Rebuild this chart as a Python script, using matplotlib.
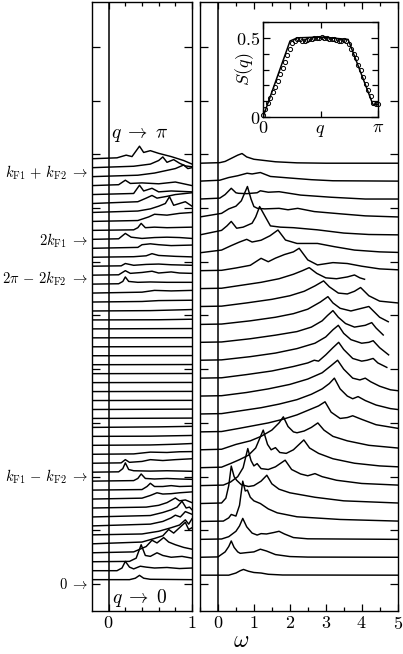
import numpy as np
import matplotlib
matplotlib.use("Agg")
import matplotlib.pyplot as plt
from matplotlib.ticker import FixedLocator, MultipleLocator
from matplotlib.transforms import blended_transform_factory

# ---------------- data ----------------
# left panel: 48 spectra, each (omega, height) points, bottom (q->0) to top (q->pi)
left_low = [
    [(-0.2,0),(0.25,0),(0.32,0.08),(0.37,0.24),(0.42,0.08),(0.5,0.02),(1,0)],
    [(-0.2,0),(0.1,0),(0.16,0.15),(0.2,0.52),(0.25,0.2),(0.3,0.1),(0.38,0.25),(0.45,0.2),(0.55,0.15),(0.7,0.18),(0.85,0.12),(1,0.15)],
    [(-0.2,0),(0.25,0.02),(0.33,0.2),(0.39,0.95),(0.44,0.35),(0.5,0.3),(0.58,0.5),(0.65,0.35),(0.75,0.25),(0.88,0.3),(1,0.2)],
    [(-0.2,0),(0.3,0.05),(0.45,0.35),(0.52,0.7),(0.58,0.55),(0.66,0.85),(0.72,0.6),(0.8,0.45),(0.9,0.3),(1,0.2)],
    [(-0.2,0),(0.4,0.1),(0.55,0.3),(0.65,0.45),(0.72,0.8),(0.78,0.6),(0.85,0.9),(0.92,1.2),(0.96,0.8),(1,0.9)],
    [(-0.2,0),(0.4,0.05),(0.6,0.2),(0.75,0.4),(0.85,0.55),(0.92,0.84),(0.96,0.6),(1,0.9)],
    [(-0.2,0),(0.5,0.1),(0.65,0.25),(0.75,0.45),(0.8,0.6),(0.86,0.5),(0.92,0.8),(1,0.65)],
    [(-0.2,0),(0.5,0.08),(0.65,0.25),(0.75,0.4),(0.82,0.55),(0.88,0.88),(0.93,0.5),(0.97,0.55),(1,0.4)],
    [(-0.2,0),(0.45,0.05),(0.6,0.15),(0.7,0.3),(0.8,0.56),(0.85,0.4),(0.92,0.45),(1,0.3)],
    [(-0.2,0),(0.4,0.05),(0.5,0.2),(0.58,0.35),(0.65,0.28),(0.75,0.3),(0.85,0.35),(1,0.4)],
    [(-0.2,0),(0.4,0.03),(0.46,0.2),(0.5,0.38),(0.55,0.2),(0.65,0.2),(0.75,0.25),(0.85,0.2),(1,0.22)],
    [(-0.2,0),(0.3,0.03),(0.35,0.15),(0.39,0.4),(0.44,0.15),(0.55,0.12),(0.7,0.15),(0.85,0.12),(1,0.1)],
    [(-0.2,0),(0.12,0.02),(0.17,0.2),(0.2,0.52),(0.24,0.15),(0.3,0.08),(0.5,0.06),(0.7,0.08),(1,0.05)],
    [(-0.2,0),(0.15,0.02),(0.2,0.2),(0.25,0.05),(0.4,0.1),(0.5,0.2),(0.65,0.15),(0.8,0.2),(1,0.25)],
    [(-0.2,0),(0.3,0.02),(0.5,0.12),(0.7,0.1),(0.85,0.14),(1,0.15)],
    [(-0.2,0),(0.5,0.02),(0.8,0.06),(1,0.1)],
]
left_mid = [
    [(-0.2,0),(0.5,0.01),(1,0.05)],
    [(-0.2,0),(0.6,0.03),(1,0.06)],
    [(-0.2,0),(1,0.02)],
    [(-0.2,0),(1,0.02)],
    [(-0.2,0),(1,0.01)],
    [(-0.2,0),(1,0.01)],
    [(-0.2,0),(1,0.01)],
    [(-0.2,0),(1,0.01)],
    [(-0.2,0),(1,0.01)],
    [(-0.2,0),(1,0.01)],
    [(-0.2,0),(1,0.01)],
    [(-0.2,0),(1,0.01)],
    [(-0.2,0),(1,0.02)],
    [(-0.2,0),(0.6,0.01),(1,0.04)],
    [(-0.2,0),(0.5,0.02),(1,0.08)],
    [(-0.2,0),(0.4,0.03),(0.6,0.08),(1,0.1)],
]
left_high = [
    [(-0.2,0),(0.4,0.05),(0.55,0.15),(0.75,0.12),(1,0.15)],
    [(-0.2,0),(0.12,0.02),(0.17,0.15),(0.2,0.4),(0.24,0.15),(0.35,0.1),(0.5,0.12),(0.7,0.1),(1,0.1)],
    [(-0.2,0),(0.12,0.02),(0.2,0.25),(0.26,0.1),(0.4,0.15),(0.52,0.22),(0.6,0.12),(0.75,0.18),(0.85,0.12),(1,0.1)],
    [(-0.2,0),(0.15,0.02),(0.2,0.15),(0.3,0.05),(0.45,0.1),(0.6,0.12),(0.75,0.08),(1,0.05)],
    [(-0.2,0),(0.3,0.03),(0.45,0.08),(0.52,0.2),(0.6,0.1),(0.8,0.05),(1,0.02)],
    [(-0.2,0),(0.35,0.05),(0.4,0.2),(0.5,0.25),(0.6,0.2),(0.75,0.15),(1,0.18)],
    [(-0.2,0),(0.12,0.03),(0.2,0.33),(0.27,0.12),(0.4,0.05),(0.55,0.1),(0.7,0.12),(0.85,0.1),(1,0.05)],
    [(-0.2,0),(0.3,0.03),(0.35,0.15),(0.39,0.39),(0.44,0.15),(0.55,0.18),(0.7,0.15),(1,0.18)],
    [(-0.2,0),(0.35,0.05),(0.48,0.25),(0.55,0.4),(0.7,0.35),(0.85,0.45),(1,0.5)],
    [(-0.2,0),(0.35,0.08),(0.5,0.2),(0.6,0.35),(0.68,0.5),(0.73,0.88),(0.78,0.4),(0.85,0.5),(0.92,0.6),(1,0.35)],
    [(-0.2,0),(0.35,0.1),(0.45,0.3),(0.52,0.45),(0.58,0.3),(0.7,0.4),(0.8,0.5),(0.9,0.55),(1,0.6)],
    [(-0.2,0),(0.3,0.06),(0.37,0.52),(0.42,0.2),(0.52,0.35),(0.6,0.15),(0.75,0.2),(1,0.15)],
    [(-0.2,0),(0.12,0.05),(0.2,0.3),(0.26,0.12),(0.4,0.15),(0.6,0.1),(0.8,0.2),(1,0.0)],
    [(-0.2,0),(0.35,0.08),(0.55,0.2),(0.7,0.35),(0.8,0.45),(0.9,0.65),(0.95,0.45),(1,0.5)],
    [(-0.2,0),(0.3,0.08),(0.5,0.2),(0.6,0.4),(0.65,0.6),(0.7,0.3),(0.78,0.45),(0.85,0.25),(0.92,0.1),(1,0.05)],
    [(-0.2,0),(0.1,0.05),(0.21,0.2),(0.28,0.12),(0.37,0.7),(0.42,0.35),(0.5,0.45),(0.6,0.3),(0.75,0.12),(0.9,-0.1),(1,-0.3)],
]

# right panel: 24 spectra, bottom (q->0) to top (q->pi)
right_low = [
    [(-0.5,0),(0.3,0),(0.5,0.12),(0.62,0.25),(0.71,0.32),(0.85,0.22),(1.0,0.15),(1.2,0.12),(1.4,0.05),(1.8,0.01),(5,0)],
    [(-0.5,0),(0,0.02),(0.2,0.3),(0.3,0.6),(0.37,0.91),(0.45,0.55),(0.55,0.3),(0.62,0.22),(0.8,0.26),(1.0,0.3),(1.18,0.45),(1.35,0.35),(1.6,0.15),(2.0,0.04),(2.5,0.01),(5,0)],
    [(-0.5,0),(0.1,0.02),(0.3,0.15),(0.5,0.45),(0.6,0.75),(0.69,1.17),(0.8,0.7),(0.95,0.35),(1.09,0.24),(1.2,0.32),(1.35,0.3),(1.55,0.38),(1.7,0.45),(1.85,0.3),(2.1,0.1),(2.5,0.03),(5,0)],
    [(-0.5,0),(0.15,0.02),(0.3,0.2),(0.37,0.39),(0.5,0.3),(0.6,0.9),(0.69,2.25),(0.76,1.7),(0.82,1.75),(0.9,1.35),(1.0,1.15),(1.18,1.0),(1.4,0.7),(1.65,0.48),(2.2,0.26),(3.4,0.11),(5,0.02)],
    [(-0.5,0),(0.1,0.03),(0.22,0.3),(0.3,1.0),(0.37,2.09),(0.45,1.5),(0.52,1.3),(0.65,1.05),(0.85,0.95),(1.0,1.0),(1.2,1.25),(1.36,1.58),(1.5,1.1),(1.7,0.8),(2.0,0.6),(2.7,0.35),(3.5,0.15),(5,0.03)],
    [(-0.5,0),(0.15,0.03),(0.35,0.2),(0.55,0.5),(0.7,1.0),(0.83,2.07),(0.92,1.4),(1.0,1.1),(1.09,1.23),(1.2,0.95),(1.4,0.9),(1.6,1.05),(1.87,1.42),(2.05,0.9),(2.3,0.65),(2.5,0.55),(2.7,0.67),(2.9,0.5),(3.3,0.3),(4.0,0.12),(5,0.03)],
    [(-0.5,0),(0.1,0.03),(0.37,0.25),(0.6,0.45),(0.85,0.7),(1.05,1.1),(1.26,2.1),(1.38,1.3),(1.48,1.0),(1.6,1.12),(1.72,0.85),(1.9,0.8),(2.1,1.0),(2.39,1.55),(2.55,1.1),(2.8,0.8),(3.2,0.5),(3.8,0.25),(4.5,0.1),(5,0.05)],
    [(-0.5,0),(0.1,0.03),(0.5,0.3),(0.9,0.5),(1.2,0.75),(1.5,1.1),(1.7,1.5),(1.82,1.84),(1.95,1.3),(2.1,1.0),(2.2,0.95),(2.4,1.05),(2.6,1.25),(2.78,1.5),(2.95,1.1),(3.2,0.75),(3.6,0.5),(4.2,0.25),(5,0.1)],
    [(-0.5,0),(0.1,0.02),(0.6,0.2),(1.0,0.35),(1.4,0.5),(1.8,0.7),(2.2,0.95),(2.5,1.2),(2.8,1.45),(2.98,1.68),(3.15,1.1),(3.4,0.75),(3.6,0.8),(3.75,0.9),(4.0,0.7),(4.4,0.4),(5,0.2)],
    [(-0.5,0),(0.1,0.02),(0.7,0.2),(1.2,0.35),(1.7,0.55),(2.2,0.8),(2.6,1.1),(2.9,1.4),(3.1,1.7),(3.24,2.0),(3.4,1.4),(3.6,1.0),(3.75,0.85),(3.9,0.97),(4.1,0.75),(4.4,0.5),(4.8,0.3),(5,0.25)],
    [(-0.5,0),(0.1,0.02),(0.8,0.2),(1.4,0.4),(2.0,0.65),(2.5,0.95),(2.9,1.3),(3.15,1.7),(3.33,2.0),(3.5,1.5),(3.75,1.0),(3.95,0.9),(4.1,1.0),(4.25,0.8),(4.5,0.55),(4.8,0.35),(5,0.3)],
    [(-0.5,0),(0.1,0.02),(0.8,0.2),(1.5,0.4),(2.1,0.65),(2.5,0.85),(2.68,1.0),(2.8,0.95),(3.0,1.3),(3.2,1.7),(3.36,2.0),(3.5,1.6),(3.75,1.1),(4.0,0.95),(4.15,1.0),(4.32,1.1),(4.45,0.85),(4.7,0.6)],
]
right_high = [
    [(-0.5,0),(0.1,0.02),(0.9,0.2),(1.6,0.4),(2.2,0.65),(2.7,0.95),(3.0,1.3),(3.2,1.7),(3.35,1.95),(3.5,1.5),(3.7,1.15),(4.0,0.95),(4.2,1.0),(4.32,1.09),(4.5,0.7),(4.75,0.3)],
    [(-0.5,0),(0.1,0.02),(0.9,0.2),(1.6,0.4),(2.2,0.6),(2.6,0.85),(2.9,1.2),(3.05,1.5),(3.2,1.77),(3.35,1.4),(3.55,1.05),(3.8,0.85),(4.1,0.95),(4.28,1.1),(4.4,0.8),(4.6,0.41)],
    [(-0.5,0),(0.1,0.02),(0.9,0.2),(1.6,0.4),(2.1,0.6),(2.5,0.85),(2.85,1.25),(3.06,1.55),(3.2,1.2),(3.4,0.9),(3.7,0.75),(4.0,0.9),(4.2,1.0),(4.35,0.7),(4.5,0.4),(4.74,0.15)],
    [(-0.5,0),(0.1,0.02),(0.8,0.2),(1.5,0.4),(2.0,0.6),(2.4,0.85),(2.7,1.15),(2.94,1.43),(3.1,1.1),(3.35,0.75),(3.6,0.7),(3.8,0.85),(3.97,1.06),(4.2,0.6),(4.5,0.3),(5,0.2)],
    [(-0.5,0),(0.1,0.02),(0.7,0.2),(1.2,0.35),(1.7,0.55),(2.1,0.8),(2.35,1.0),(2.54,1.17),(2.75,0.85),(3.0,0.6),(3.3,0.55),(3.6,0.65),(3.8,0.76),(3.95,0.6),(4.08,0.52)],
    [(-0.5,0),(0.1,0.02),(0.5,0.15),(0.9,0.3),(1.2,0.69),(1.4,0.5),(1.6,0.7),(1.85,0.9),(2.1,1.05),(2.26,1.25),(2.5,0.6),(2.77,0.32),(3.2,0.45),(3.6,0.4),(4.0,0.25),(4.5,0.1),(5,0.05)],
    [(-0.5,0),(0.1,0.15),(0.37,0.4),(0.6,0.6),(0.8,0.75),(0.95,0.6),(1.2,0.7),(1.45,0.95),(1.67,1.27),(1.88,0.71),(2.2,0.52),(2.77,0.52),(3.24,0.34),(3.8,0.15),(4.5,0.05),(5,0.02)],
    [(-0.5,0),(0.1,0.25),(0.25,0.5),(0.37,0.75),(0.52,0.37),(0.7,0.43),(0.95,0.65),(1.05,1.0),(1.16,1.58),(1.32,1.0),(1.46,0.5),(1.74,0.43),(2.1,0.4),(2.77,0.28),(3.5,0.1),(4.2,0.02),(5,0)],
    [(-0.5,0),(0.1,0.2),(0.3,0.45),(0.5,0.6),(0.65,0.9),(0.82,1.7),(0.92,1.0),(1.0,0.58),(1.1,0.48),(1.3,0.45),(1.7,0.48),(1.95,0.4),(2.22,0.48),(2.68,0.3),(3.43,0.17),(4.1,0.06),(5,0)],
    [(-0.5,0),(0.05,0.05),(0.2,0.25),(0.37,0.6),(0.5,0.35),(0.57,0.32),(0.8,0.3),(1.09,0.35),(1.18,0.46),(1.4,0.38),(1.7,0.41),(2.3,0.22),(3.15,0.1),(4.1,0),(5,0)],
    [(-0.5,0),(0.05,0.05),(0.3,0.2),(0.55,0.3),(0.81,0.44),(0.95,0.4),(1.18,0.48),(1.46,0.26),(2.02,0.17),(2.6,0.08),(3.2,0.02),(5,0)],
    [(-0.5,0),(0.05,0.03),(0.2,0.1),(0.4,0.3),(0.55,0.45),(0.67,0.54),(0.8,0.35),(1.0,0.22),(1.3,0.15),(1.6,0.08),(2.2,0.02),(3,0),(5,0)],
]

# inset S(q): solid line (q in units of pi) and circles
sline_q = [0.0, 0.235, 0.30, 0.50, 0.74, 0.95, 0.96, 1.0]
sline_S = [0.0, 0.48, 0.50, 0.505, 0.49, 0.09, 0.075, 0.08]
scirc_S = [0.01, 0.05, 0.09, 0.12, 0.16, 0.19, 0.23, 0.27, 0.31, 0.35, 0.39, 0.43,
           0.47, 0.48, 0.49, 0.49, 0.48, 0.48, 0.485, 0.49, 0.495, 0.50, 0.50, 0.50,
           0.505, 0.50, 0.50, 0.495, 0.49, 0.49, 0.485, 0.48, 0.48, 0.485, 0.48, 0.46,
           0.43, 0.40, 0.37, 0.33, 0.30, 0.25, 0.21, 0.17, 0.13, 0.09, 0.08, 0.08]

left_labels = [r'$0\;\rightarrow$', r'$k_{\rm F1}\,-\,k_{\rm F2}\;\rightarrow$',
               r'$2\pi\,-\,2k_{\rm F2}\;\rightarrow$', r'$2k_{\rm F1}\;\rightarrow$',
               r'$k_{\rm F1}\,+\,k_{\rm F2}\;\rightarrow$']

# ---------------- style ----------------
plt.rcParams['mathtext.fontset'] = 'cm'
plt.rcParams['font.family'] = 'serif'
plt.rcParams['font.serif'] = ['cmr10', 'DejaVu Serif']
plt.rcParams['axes.linewidth'] = 1.0

W, H = 403, 654
fig = plt.figure(figsize=(W/100, H/100), dpi=100)
axL = fig.add_axes([92/W, 1-611/H, 100/W, 609/H])
axR = fig.add_axes([200/W, 1-611/H, 197.6/W, 609/H])
axI = fig.add_axes([263/W, 1-117/H, 115/W, 95/H])

lw = 1.05
left_curves = left_low + left_mid + left_high
right_curves = right_low + right_high
for i, pts in enumerate(left_curves):
    w, h = np.array(pts).T
    axL.plot(w, -0.25 + 0.5*i + h, color='k', lw=lw)
for j, pts in enumerate(right_curves):
    w, h = np.array(pts).T
    axR.plot(w, j + h, color='k', lw=lw)

for ax, xl in ((axL, (-0.2, 1.0)), (axR, (-0.5, 5.0))):
    ax.axvline(0, color='k', lw=1.1)
    ax.set_xlim(*xl)
    ax.set_ylim(-2, 32)
    ax.set_yticks(np.arange(-0.5, 32, 3))
    ax.tick_params(which='both', direction='in', top=True, right=True,
                   labelleft=False, labelsize=13, pad=3)
    ax.tick_params(axis='y', length=6, width=0.9)
    ax.tick_params(axis='x', which='major', length=5, width=0.9)
    ax.tick_params(axis='x', which='minor', length=3, width=0.9)

axL.set_xticks([0, 1], [r'$0$', r'$1$'])
axL.xaxis.set_minor_locator(FixedLocator([0.2, 0.4, 0.6, 0.8]))
axR.set_xticks(range(6), [rf'${k}$' for k in range(6)])
axR.xaxis.set_minor_locator(MultipleLocator(0.5))

axL.text(0.37, 24.6, r'$q\;\rightarrow\;\pi$', ha='center', va='center', fontsize=14)
axL.text(0.37, -1.3, r'$q\;\rightarrow\;0$', ha='center', va='center', fontsize=14)

tr = blended_transform_factory(axL.transAxes, axL.transData)
for lab, yv in zip(left_labels, [-0.5, 5.47, 16.54, 18.66, 22.46]):
    axL.text(-0.04, yv, lab, transform=tr, ha='right', va='center', fontsize=10.5)

fig.text(241/W, 1-641/H, r'$\omega$', ha='center', va='center', fontsize=17)

# inset
qc = np.linspace(0, np.pi, len(scirc_S))
axI.plot(np.array(sline_q)*np.pi, sline_S, color='k', lw=1.1)
axI.plot(qc, scirc_S, 'o', mfc='none', mec='k', ms=3, mew=0.7, clip_on=False)
axI.set_xlim(0, np.pi)
axI.set_ylim(0, 0.6)
axI.set_xticks([0, np.pi], [r'$0$', r'$\pi$'])
axI.xaxis.set_minor_locator(FixedLocator([np.pi/2]))
axI.set_yticks([0, 0.5], [r'$0$', r'$0.5$'])
axI.yaxis.set_minor_locator(MultipleLocator(0.1))
axI.tick_params(which='both', direction='in', top=True, right=True, labelsize=13, pad=2)
axI.tick_params(which='major', length=5, width=0.9)
axI.tick_params(which='minor', length=4, width=0.9)
axI.text(0.5, -0.15, r'$q$', transform=axI.transAxes, ha='center', va='center', fontsize=13)
axI.text(-0.16, 0.5, r'$S(q)$', transform=axI.transAxes, ha='center', va='center',
         rotation=90, fontsize=13)

fig.savefig('out.png', dpi=100)
